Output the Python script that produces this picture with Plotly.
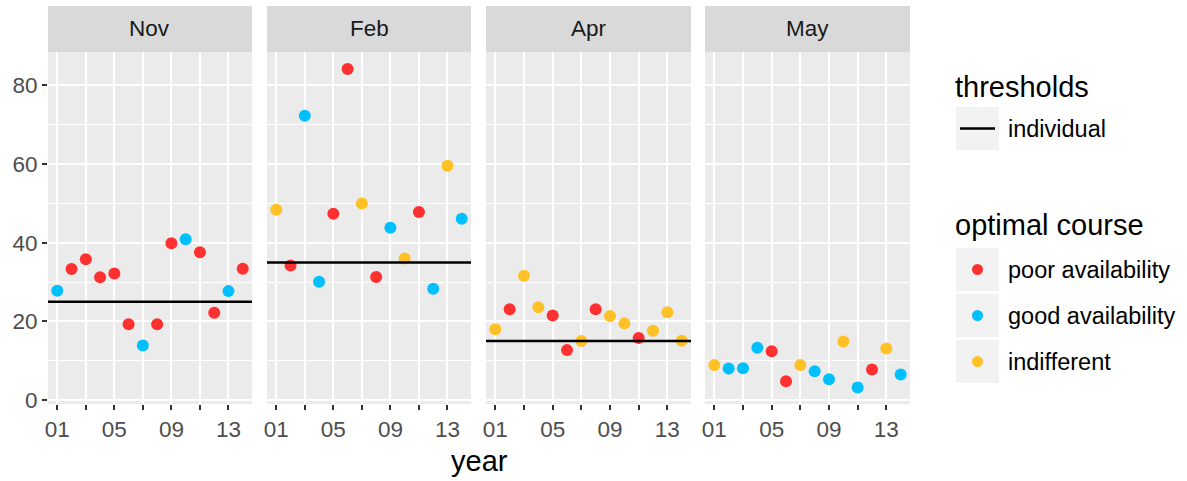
import plotly.graph_objects as go
from plotly.subplots import make_subplots

# ---------------- data ----------------
years = list(range(1, 15))
months = ["Nov", "Feb", "Apr", "May"]
x_tickvals = [1, 3, 5, 7, 9, 11, 13]
x_ticktext = ["01", "", "05", "", "09", "", "13"]
y_tickvals = [0, 20, 40, 60, 80]

nov_values = [27.8, 33.3, 35.8, 31.2, 32.2, 19.3, 13.9, 19.3, 39.9, 40.9, 37.6, 22.2, 27.7, 33.4]
feb_values = [48.4, 34.2, 72.3, 30.1, 47.4, 84.2, 50.0, 31.3, 43.8, 36.0, 47.8, 28.3, 59.6, 46.1]
apr_values = [18.0, 23.1, 31.6, 23.6, 21.5, 12.7, 15.0, 23.1, 21.4, 19.5, 15.8, 17.6, 22.3, 15.1]
may_values = [8.9, 8.0, 8.1, 13.3, 12.4, 4.8, 8.9, 7.3, 5.3, 14.9, 3.2, 7.8, 13.1, 6.5]

# optimal course per year: P = poor availability, G = good availability, I = indifferent
nov_course = ["G", "P", "P", "P", "P", "P", "G", "P", "P", "G", "P", "P", "G", "P"]
feb_course = ["I", "P", "G", "G", "P", "P", "I", "P", "G", "I", "P", "G", "I", "G"]
apr_course = ["I", "P", "I", "I", "P", "P", "I", "P", "I", "I", "P", "I", "I", "I"]
may_course = ["I", "G", "G", "G", "P", "P", "I", "G", "G", "I", "G", "P", "I", "G"]

thresholds = [25, 35, 15, None]  # individual threshold per month (none in May)

course_codes = ["P", "G", "I"]
course_labels = ["poor availability", "good availability", "indifferent"]
course_colors = ["#FF3030", "#00BFFF", "#FFC125"]

values = [nov_values, feb_values, apr_values, may_values]
courses = [nov_course, feb_course, apr_course, may_course]

# ---------------- layout helpers ----------------
W, H = 1187, 481
FONT = "Liberation Sans"
TICK_SIZE = 22.5
LABEL_SIZE = 23.5
TITLE_SIZE = 29


def px(x):
    return x / W


def py(y):
    return 1 - y / H


panel_x = [(48, 252), (267, 471), (486, 691), (705, 910)]
panel_top, panel_bottom = 52, 404
strip_top = 6

fig = make_subplots(rows=1, cols=4, shared_yaxes=True)

for i, (m, vals, crs) in enumerate(zip(months, values, courses)):
    col = i + 1
    for code, lab, colr in zip(course_codes, course_labels, course_colors):
        xs = [yr for yr, c in zip(years, crs) if c == code]
        ys = [v for v, c in zip(vals, crs) if c == code]
        fig.add_trace(
            go.Scatter(
                x=xs, y=ys, mode="markers", name=lab, legendgroup=lab,
                showlegend=False,
                marker=dict(color=colr, size=12, line=dict(width=0)),
            ),
            row=1, col=col,
        )
    if thresholds[i] is not None:
        fig.add_hline(y=thresholds[i], line=dict(color="black", width=2.5),
                      row=1, col=col)

    ax = "xaxis" if i == 0 else f"xaxis{col}"
    fig.layout[ax].update(
        domain=[px(panel_x[i][0]), px(panel_x[i][1])],
        range=[0.35, 14.65],
        tickvals=x_tickvals, ticktext=x_ticktext,
        ticks="outside", ticklen=5, tickwidth=2, tickcolor="#333333",
        showgrid=True, gridcolor="white", gridwidth=2.2,
        zeroline=False, showline=False,
        tickfont=dict(family=FONT, size=TICK_SIZE, color="#4D4D4D"),
        automargin=False,
    )
    # strip
    fig.add_shape(type="rect", xref="paper", yref="paper",
                  x0=px(panel_x[i][0]), x1=px(panel_x[i][1]),
                  y0=py(panel_top), y1=py(strip_top),
                  fillcolor="#D9D9D9", line=dict(width=0), layer="below")
    fig.add_annotation(text=m, xref="paper", yref="paper",
                       x=px((panel_x[i][0] + panel_x[i][1]) / 2),
                       y=py((panel_top + strip_top) / 2),
                       showarrow=False, xanchor="center", yanchor="middle",
                       font=dict(family=FONT, size=TICK_SIZE, color="#1A1A1A"))

for i in range(4):
    ay = "yaxis" if i == 0 else f"yaxis{i + 1}"
    fig.layout[ay].update(
        domain=[py(panel_bottom), py(panel_top)],
        range=[-1.0, 88.5],
        tickvals=y_tickvals,
        showgrid=True, gridcolor="white", gridwidth=2.2,
        minor=dict(tickvals=[10, 30, 50, 70], showgrid=True,
                   gridcolor="white", gridwidth=1.2, ticks=""),
        zeroline=False, showline=False,
        automargin=False,
    )
fig.layout.yaxis.update(
    ticks="outside", ticklen=5, tickwidth=2, tickcolor="#333333",
    tickfont=dict(family=FONT, size=TICK_SIZE, color="#4D4D4D"),
)

# x axis title
fig.add_annotation(text="year", xref="paper", yref="paper",
                   x=px((48 + 910) / 2), y=py(461), showarrow=False,
                   xanchor="center", yanchor="middle",
                   font=dict(family=FONT, size=TITLE_SIZE, color="black"))

# ---------------- manual legends (ggplot style) ----------------
key_x0, key_x1 = 956, 999
label_x = 1006

fig.add_annotation(text="thresholds", xref="paper", yref="paper",
                   x=px(953), y=py(87), showarrow=False,
                   xanchor="left", yanchor="middle",
                   font=dict(family=FONT, size=TITLE_SIZE, color="black"))
fig.add_shape(type="rect", xref="paper", yref="paper",
              x0=px(key_x0), x1=px(key_x1), y0=py(150), y1=py(107),
              fillcolor="#F2F2F2", line=dict(width=0))
fig.add_shape(type="line", xref="paper", yref="paper",
              x0=px(960), x1=px(995), y0=py(128.5), y1=py(128.5),
              line=dict(color="black", width=2.5))
fig.add_annotation(text="individual", xref="paper", yref="paper",
                   x=px(label_x), y=py(128.5), showarrow=False,
                   xanchor="left", yanchor="middle",
                   font=dict(family=FONT, size=LABEL_SIZE, color="black"))

fig.add_annotation(text="optimal course", xref="paper", yref="paper",
                   x=px(953), y=py(225), showarrow=False,
                   xanchor="left", yanchor="middle",
                   font=dict(family=FONT, size=TITLE_SIZE, color="black"))
key_tops = [248, 294, 340]
for top, lab, colr in zip(key_tops, course_labels, course_colors):
    fig.add_shape(type="rect", xref="paper", yref="paper",
                  x0=px(key_x0), x1=px(key_x1), y0=py(top + 43), y1=py(top),
                  fillcolor="#F2F2F2", line=dict(width=0))
    cy = top + 21.5
    fig.add_shape(type="circle", xref="paper", yref="paper",
                  x0=px(977.5 - 5.5), x1=px(977.5 + 5.5),
                  y0=py(cy + 5.5), y1=py(cy - 5.5),
                  fillcolor=colr, line=dict(width=0))
    fig.add_annotation(text=lab, xref="paper", yref="paper",
                       x=px(label_x), y=py(cy), showarrow=False,
                       xanchor="left", yanchor="middle",
                       font=dict(family=FONT, size=LABEL_SIZE, color="black"))

fig.update_layout(
    width=W, height=H,
    margin=dict(l=0, r=0, t=0, b=0),
    paper_bgcolor="white",
    plot_bgcolor="#EBEBEB",
    showlegend=False,
    font=dict(family=FONT),
)

# remove the default page margin so the figure fills the window exactly
fig.write_html(
    "out.html",
    config={"displayModeBar": False},
    post_script="document.body.style.margin='0px';"
                "document.body.style.overflow='hidden';"
                "document.documentElement.style.overflow='hidden';",
)
